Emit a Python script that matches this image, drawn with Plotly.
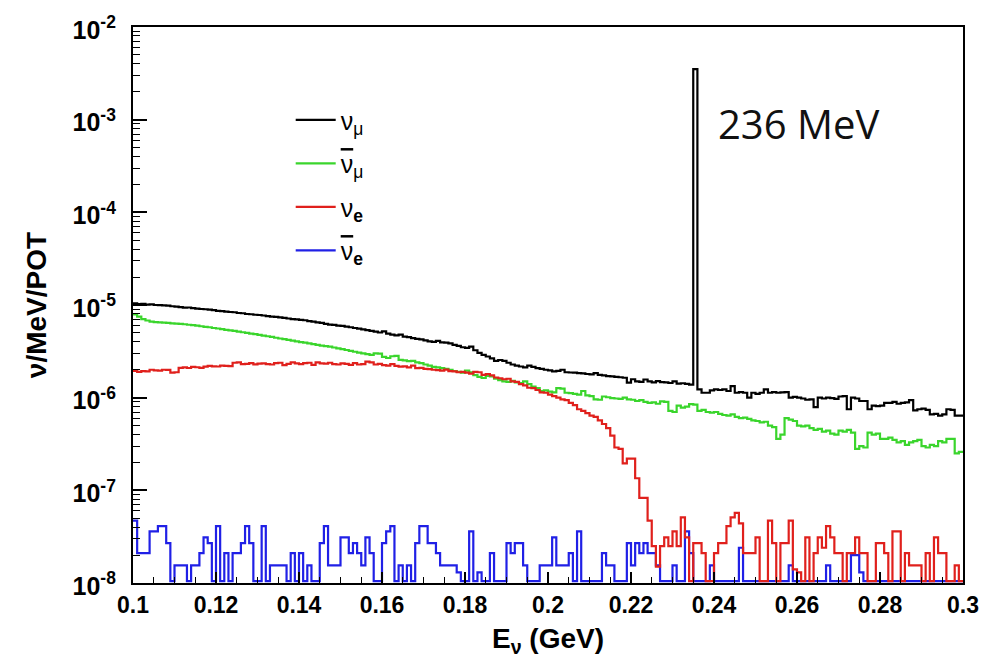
import numpy as np
import plotly.graph_objects as go

# Energy binning: 1 MeV bins between 0.1 and 0.3 GeV
E_LO, E_HI, N_BINS = 0.100, 0.300, 200
UNIT = 1e-8          # tabulated fluxes are in units of 1e-8 nu/MeV/POT
Y_MIN, Y_MAX = 1e-8, 1e-2

NUMU = [
    1040, 1025, 1030, 1010, 1015, 1000, 995, 990, 985, 970,
    960, 950, 935, 940, 925, 915, 905, 900, 890, 880,
    865, 860, 850, 840, 835, 820, 815, 800, 795, 785,
    780, 770, 760, 750, 745, 735, 725, 715, 705, 700,
    690, 685, 670, 660, 650, 640, 625, 615, 610, 600,
    595, 585, 575, 565, 555, 545, 535, 525, 515, 505,
    520, 490, 480, 470, 480, 455, 450, 440, 430, 425,
    415, 405, 400, 410, 395, 392, 385, 372, 362, 350,
    345, 355, 325, 305, 290, 278, 265, 250, 255, 250,
    238, 228, 222, 217, 212, 222, 215, 208, 205, 200,
    197, 192, 195, 200, 188, 187, 186, 184, 183, 180,
    178, 184, 176, 174, 171, 170, 168, 166, 164, 145,
    158, 150, 148, 157, 150, 146, 151, 147, 146, 144,
    150, 142, 143, 141, 138, 351000, 123, 113, 113, 120,
    123, 121, 123, 118, 133, 113, 115, 113, 100, 113,
    110, 113, 123, 113, 115, 113, 114, 115, 100, 102,
    100, 98, 95, 96, 79, 100, 98, 100, 99, 97,
    103, 104, 75, 100, 98, 92, 92, 75, 82, 81,
    82, 88, 88, 90, 86, 88, 89, 94, 73, 75,
    76, 74, 66, 67, 64, 66, 75, 74, 64, 64,
]

NUMUBAR = [
    790, 750, 705, 680, 660, 655, 650, 645, 640, 635,
    630, 625, 620, 612, 605, 598, 590, 582, 575, 565,
    558, 550, 540, 533, 525, 515, 508, 500, 492, 485,
    476, 468, 460, 452, 443, 435, 428, 420, 412, 405,
    398, 392, 385, 378, 372, 365, 360, 355, 348, 340,
    334, 327, 320, 313, 306, 300, 295, 289, 300, 298,
    275, 268, 280, 282, 256, 252, 248, 250, 240, 236,
    228, 222, 215, 212, 208, 204, 200, 194, 190, 186,
    196, 188, 175, 168, 163, 172, 170, 160, 155, 150,
    148, 152, 146, 144, 150, 140, 132, 127, 118, 120,
    116, 114, 127, 125, 113, 112, 110, 108, 118, 106,
    104, 96, 95, 103, 101, 99, 98, 97, 100, 96,
    95, 92, 94, 90, 88, 89, 86, 91, 90, 72,
    70, 82, 78, 80, 85, 84, 72, 74, 70, 69,
    70, 67, 65, 64, 66, 62, 60, 61, 59, 57,
    56, 54, 55, 50, 48, 36, 40, 60, 58, 56,
    50, 49, 50, 47, 45, 46, 43, 44, 41, 40,
    44, 43, 45, 42, 28, 30, 29, 42, 40, 41,
    36, 36, 37, 35, 33, 34, 31, 33, 34, 35,
    30, 29, 31, 30, 34, 33, 36, 36, 25, 26,
]

NUE = [
    195, 190, 193, 192, 200, 197, 196, 200, 199, 186,
    188, 210, 212, 209, 215, 213, 210, 216, 220, 218,
    217, 222, 220, 219, 238, 240, 230, 232, 236, 229,
    233, 235, 230, 228, 236, 238, 225, 232, 240, 235,
    230, 236, 238, 226, 240, 235, 233, 238, 230, 228,
    235, 232, 226, 236, 228, 230, 245, 240, 228, 232,
    225, 222, 230, 220, 216, 218, 212, 222, 208, 210,
    205, 203, 200, 198, 196, 201, 193, 192, 188, 190,
    186, 182, 190, 188, 176, 180, 174, 165, 162, 158,
    160, 150, 148, 140, 136, 128, 127, 121, 114, 113,
    108, 104, 100, 96, 94, 88, 83, 75, 72, 68,
    64, 62, 57, 52, 47, 39, 29, 28, 19.5, 22,
    22, 13.5, 8.3, 8.3, 4.7, 2.5, 1.5, 2.5, 3.1, 2.5,
    3.6, 2.5, 5.1, 3.1, 0, 2.7, 2.7, 2.1, 0, 0,
    2.1, 2.7, 2.7, 4.1, 5.1, 5.7, 4.4, 2.1, 2.1, 2.1,
    3.1, 0, 0, 4.7, 2.7, 0, 2.7, 2.7, 4.7, 1.4,
    1.3, 0, 3.1, 0, 2.1, 3.1, 2.4, 4.1, 3.1, 2.1,
    2.1, 0, 2.1, 2.1, 3.1, 2.1, 2.1, 0, 0, 2.7,
    2.7, 2.1, 0, 3.6, 3.6, 0, 2.1, 1.55, 1.55, 1.55,
    0, 2.1, 0, 3.1, 2.1, 2.1, 0, 0, 1.55, 0,
]

NUEBAR = [
    4.7, 2.1, 2.1, 2.1, 3.6, 3.6, 4.1, 4.1, 2.7, 0,
    1.55, 1.55, 1.55, 0, 1.55, 1.55, 2.1, 3.1, 2.7, 0,
    4.1, 0, 2.1, 0, 2.1, 2.1, 2.7, 4.1, 2.7, 0,
    0, 4.1, 0, 1.55, 1.55, 1.55, 1.55, 0, 2.1, 0,
    2.1, 0, 1.55, 0, 0, 2.7, 4.1, 1.55, 1.55, 1.55,
    3.1, 3.1, 2.1, 2.7, 2.1, 1.55, 3.1, 2.1, 0, 0,
    2.7, 3.6, 4.1, 0, 1.55, 0, 1.55, 0, 2.7, 4.1,
    4.1, 2.7, 2.7, 2.1, 1.55, 1.55, 1.55, 1.55, 1.3, 0,
    0, 3.6, 0, 1.3, 0, 0, 2.1, 0, 0, 0,
    2.7, 2.1, 2.7, 2.7, 1.55, 0, 0, 0, 1.55, 1.55,
    1.55, 3.1, 1.55, 1.55, 1.55, 2.1, 0, 3.6, 0, 0,
    0, 0, 0, 2.1, 1.55, 1.55, 0, 0, 0, 2.7,
    1.55, 2.7, 2.1, 2.7, 2.1, 2.1, 1.55, 0, 0, 0,
    1.55, 0, 0, 3.6, 2.1, 0, 0, 0, 0, 1.55,
    0, 0, 0, 0, 0, 0, 2.4, 0, 0, 0,
    0, 0, 0, 0, 0, 0, 0, 0, 1.55, 0,
    0, 0, 0, 0, 0, 0, 0, 1.55, 0, 0,
    0, 0, 0, 2.0, 2.0, 1.3, 0, 0, 0, 0,
    0, 0, 0, 0, 0, 0, 0, 0, 0, 0,
    0, 0, 0, 0, 0, 0, 0, 0, 0, 0,
]

X_TICKS = [0.10, 0.12, 0.14, 0.16, 0.18, 0.20, 0.22, 0.24, 0.26, 0.28, 0.30]
Y_DECADES = [-8, -7, -6, -5, -4, -3, -2]

LINE_LABEL = "236 MeV"
LINE_LABEL_POS = (0.2405, 10 ** -3.045)

for arr in (NUMU, NUMUBAR, NUE, NUEBAR):
    assert len(arr) == N_BINS

edges = np.linspace(E_LO, E_HI, N_BINS + 1)
# empty bins are drawn along the floor of the frame, as ROOT does on a log axis
floor = Y_MIN * 1.05


def step_xy(values):
    y = np.maximum(np.asarray(values, dtype=float) * UNIT, floor)
    return edges, np.append(y, y[-1])


NU_BAR = '<span style="text-decoration:overline">ν</span>'

# (values, legend label, colour, legend rank); listed in drawing order
spectra = [
    (NUMU, "ν<sub>μ</sub>", "#000000", 1),
    (NUMUBAR, f"{NU_BAR}<sub>μ</sub>", "#3ad52c", 2),
    (NUEBAR, f"{NU_BAR}<sub><b>e</b></sub>", "#2020e6", 4),
    (NUE, "ν<sub><b>e</b></sub>", "#e0201c", 3),
]

fig = go.Figure()
for values, label, colour, rank in spectra:
    x, y = step_xy(values)
    fig.add_trace(go.Scatter(
        x=x, y=y, mode="lines", name=label,
        line=dict(color=colour, width=2.2, shape="hv"),
        legendrank=rank, legendgroup=label,
    ))

fig.add_annotation(
    x=LINE_LABEL_POS[0], y=np.log10(LINE_LABEL_POS[1]),
    xref="x", yref="y", text=LINE_LABEL, showarrow=False,
    xanchor="left", yanchor="middle",
    font=dict(family="Open Sans", size=40, color="#111111"),
)

title_font = dict(family="Liberation Sans", size=28, color="black", weight="bold")

fig.update_xaxes(
    range=[E_LO, E_HI],
    tickvals=X_TICKS, ticktext=[f"{v:g}" for v in X_TICKS],
    ticks="inside", ticklen=11, tickwidth=1.5, tickcolor="black",
    minor=dict(dtick=0.005, tick0=E_LO, ticks="inside", ticklen=6,
               tickwidth=1.2, tickcolor="black"),
    showline=True, linewidth=2.2, linecolor="black", mirror=True,
    showgrid=False, zeroline=False,
    tickfont=dict(family="Liberation Sans", size=23, color="black", weight="bold"),
    title=dict(text="E<sub>ν</sub> (GeV)", standoff=12, font=title_font),
)

minor_y = [m * 10.0 ** e for e in Y_DECADES[:-1] for m in range(2, 10)]
fig.update_yaxes(
    type="log", range=[np.log10(Y_MIN), np.log10(Y_MAX)],
    tickvals=[10.0 ** e for e in Y_DECADES],
    ticktext=[f"10<sup>{e}</sup>" for e in Y_DECADES],
    ticks="inside", ticklen=14, tickwidth=1.5, tickcolor="black",
    minor=dict(tickvals=minor_y, ticks="inside", ticklen=7,
               tickwidth=1.2, tickcolor="black"),
    showline=True, linewidth=2.2, linecolor="black", mirror=True,
    showgrid=False, zeroline=False,
    ticklabelstandoff=10, ticklabelshift=3,
    tickfont=dict(family="Liberation Sans", size=25, color="black", weight="bold"),
    title=dict(text="ν/MeV/POT", standoff=18, font=title_font),
)

fig.update_layout(
    width=997, height=662,
    margin=dict(l=133, r=34, t=19, b=79),
    paper_bgcolor="white", plot_bgcolor="white",
    showlegend=True,
    legend=dict(
        x=0.19, y=0.874, xanchor="left", yanchor="top",
        bgcolor="rgba(0,0,0,0)", borderwidth=0,
        font=dict(family="Liberation Sans", size=25, color="black"),
        traceorder="grouped", tracegroupgap=8, itemwidth=40,
    ),
)

fig.write_html("out.html")
